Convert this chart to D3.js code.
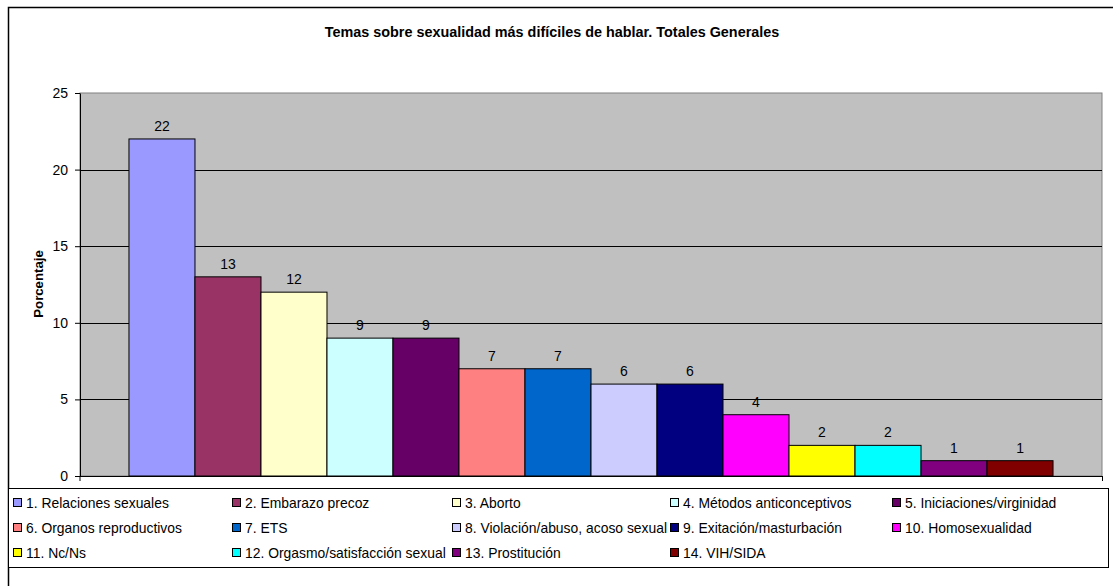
<!DOCTYPE html>
<html><head><meta charset="utf-8">
<script src="https://cdn.jsdelivr.net/npm/d3@7"></script>
<style>body{margin:0;background:#fff;font-family:Arial,"Liberation Sans",sans-serif;}</style>
</head><body><svg id="c" width="1113" height="586"></svg>
<script>
const categories = ["1. Relaciones sexuales","2. Embarazo precoz","3. Aborto","4. Métodos anticonceptivos","5. Iniciaciones/virginidad","6. Organos reproductivos","7. ETS","8. Violación/abuso, acoso sexual","9. Exitación/masturbación","10. Homosexualidad","11. Nc/Ns","12. Orgasmo/satisfacción sexual","13. Prostitución","14. VIH/SIDA"];
const values = [22,13,12,9,9,7,7,6,6,4,2,2,1,1];
const colors = ["#9999FF","#993366","#FFFFCC","#CCFFFF","#660066","#FF8080","#0066CC","#CCCCFF","#000080","#FF00FF","#FFFF00","#00FFFF","#800080","#800000"];
const yTicks = [0,5,10,15,20,25];
const title = "Temas sobre sexualidad más difíciles de hablar. Totales Generales";
const yLabel = "Porcentaje";

const svg = d3.select("#c");
const font = "Arial, 'Liberation Sans', sans-serif";
// outer border
svg.append("rect").attr("x",8.5).attr("y",7.5).attr("width",1120).attr("height",600)
  .attr("fill","#fff").attr("stroke","#000").attr("stroke-width",1.5);

const L=80, R=1102, T=93, B=476;
const x = d3.scaleBand().domain(categories).range([L,R]).paddingInner(0).paddingOuter(0.742);
const y = d3.scaleLinear().domain([0,25]).range([B,T]);

svg.append("rect").attr("x",L).attr("y",T).attr("width",R-L).attr("height",B-T)
  .attr("fill","#C0C0C0").attr("stroke","#808080").attr("stroke-width",1);

// gridlines
svg.append("g").selectAll("line").data(yTicks.filter(d=>d>0&&d<25)).join("line")
  .attr("x1",L).attr("x2",R).attr("y1",d=>Math.round(y(d))+0.5).attr("y2",d=>Math.round(y(d))+0.5)
  .attr("stroke","#000").attr("stroke-width",1);

// bars
svg.append("g").selectAll("rect").data(values).join("rect")
  .attr("x",(d,i)=>x(categories[i])).attr("width",x.bandwidth())
  .attr("y",d=>y(d)).attr("height",d=>B-y(d))
  .attr("fill",(d,i)=>colors[i]).attr("stroke","#000").attr("stroke-width",1);

// value labels
svg.append("g").selectAll("text").data(values).join("text")
  .attr("x",(d,i)=>x(categories[i])+x.bandwidth()/2).attr("y",d=>y(d)-8)
  .attr("text-anchor","middle").attr("font-family",font).attr("font-size",14).attr("fill","#000")
  .text(d=>d);

// y axis
const ax = svg.append("g").attr("transform",`translate(${L},0)`)
  .call(d3.axisLeft(y).tickValues(yTicks).tickSize(5).tickPadding(7).tickSizeOuter(0));
ax.select(".domain").attr("stroke","#000");
ax.selectAll(".tick line").attr("stroke","#000");
ax.selectAll("text").attr("font-family",font).attr("font-size",14).attr("fill","#000");
// x axis line
svg.append("line").attr("x1",L).attr("x2",R).attr("y1",B+0.5).attr("y2",B+0.5).attr("stroke","#000");
svg.append("line").attr("x1",R+0.5).attr("x2",R+0.5).attr("y1",B).attr("y2",B+5).attr("stroke","#000");
svg.append("line").attr("x1",L).attr("x2",L).attr("y1",B).attr("y2",B+5).attr("stroke","#000");

// title
svg.append("text").attr("x",552).attr("y",37).attr("text-anchor","middle")
  .attr("font-family",font).attr("font-weight","bold").attr("font-size",14.4).text(title);
// y label
svg.append("text").attr("transform","translate(43,284) rotate(-90)").attr("text-anchor","middle")
  .attr("font-family",font).attr("font-weight","bold").attr("font-size",13.2).text(yLabel);

// legend
svg.append("rect").attr("x",8.5).attr("y",488.5).attr("width",1100).attr("height",79)
  .attr("fill","#fff").attr("stroke","#000").attr("stroke-width",1);
const colX = [13,232,452,670,892];
const rowY = [503,528,553];
const lg = svg.append("g").selectAll("g").data(categories).join("g")
  .attr("transform",(d,i)=>`translate(${colX[i%5]},${rowY[Math.floor(i/5)]})`);
lg.append("rect").attr("x",0.5).attr("y",-4.5).attr("width",8).attr("height",8)
  .attr("fill",(d,i)=>colors[i]).attr("stroke","#000").attr("stroke-width",1);
lg.append("text").attr("x",13).attr("y",5).attr("font-family",font).attr("font-size",13.9)
  .attr("fill","#000").text(d=>d);
</script></body></html>
